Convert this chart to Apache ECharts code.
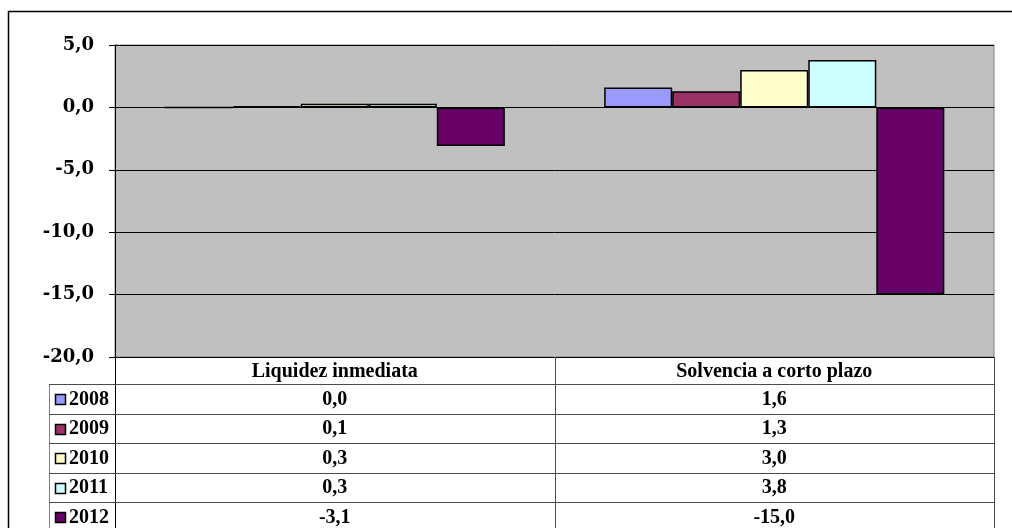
<!DOCTYPE html>
<html>
<head>
<meta charset="utf-8">
<script src="https://cdn.jsdelivr.net/npm/echarts@6/dist/echarts.min.js"></script>
<style>
  html, body { margin: 0; padding: 0; background: #ffffff; }
  #chart { width: 1012px; height: 528px; }
</style>
</head>
<body>
<div id="chart"></div>
<script>
// Ratios per year for the two indicators
const categories = ['Liquidez inmediata', 'Solvencia a corto plazo'];
const years = ['2008', '2009', '2010', '2011', '2012'];
const v2008 = [0.0, 1.6];
const v2009 = [0.1, 1.3];
const v2010 = [0.3, 3.0];
const v2011 = [0.3, 3.8];
const v2012 = [-3.1, -15.0];
const yTicks = { min: -20, max: 5, interval: 5 };

const seriesValues = [v2008, v2009, v2010, v2011, v2012];
const colors = ['#9999FF', '#993366', '#FFFFCC', '#CCFFFF', '#660066'];

const fmt = v => v.toFixed(1).replace('.', ',');

const GRID = { left: 115, top: 45, right: 18, bottom: 171 };
const W = 1012, H = 528;
const tableText = {
  fontFamily: '"Liberation Serif", "Times New Roman", serif',
  fontWeight: 'bold',
  fontSize: 20
};
const lineColor = '#4a4a4a';

const chart = echarts.init(document.getElementById('chart'), null, { renderer: 'canvas' });

chart.setOption({
  animation: false,
  backgroundColor: '#ffffff',
  grid: {
    left: GRID.left, top: GRID.top, right: GRID.right, bottom: GRID.bottom,
    show: true, backgroundColor: '#C0C0C0', borderColor: '#808080', borderWidth: 1
  },
  xAxis: {
    type: 'category',
    data: categories,
    axisLine: { onZero: true, lineStyle: { color: '#000', width: 1 } },
    axisTick: { show: false },
    axisLabel: { show: false },
    splitLine: { show: false }
  },
  yAxis: {
    type: 'value',
    min: yTicks.min, max: yTicks.max, interval: yTicks.interval,
    axisLine: { show: true, lineStyle: { color: '#000', width: 1 } },
    axisTick: { show: true, length: 6, lineStyle: { color: '#000' } },
    axisLabel: {
      margin: 21,
      formatter: v => fmt(v),
      fontFamily: '"DejaVu Serif", serif',
      fontWeight: 'bold',
      fontSize: 18,
      color: '#000'
    },
    splitLine: { show: true, lineStyle: { color: '#000', width: 1 } }
  },
  series: years.map((y, i) => ({
    name: y,
    type: 'bar',
    data: seriesValues[i],
    barGap: '0%',
    barCategoryGap: '22.6%',
    itemStyle: { color: colors[i], borderColor: '#000', borderWidth: 1.5 }
  }))
});

// Data table under the plot, laid out from the axis geometry
function buildTable() {
  const plotLeft = GRID.left;
  const plotRight = W - GRID.right;
  const plotBottom = H - GRID.bottom;
  const tableLeft = 49;
  const headerBottom = plotBottom + 27;
  const rowH = 29.5;
  const mid = (chart.convertToPixel({ xAxisIndex: 0 }, categories[0]) +
               chart.convertToPixel({ xAxisIndex: 0 }, categories[1])) / 2;

  const g = [];
  const line = (x1, y1, x2, y2, color, w) => g.push({
    type: 'line', silent: true, z: 10,
    shape: { x1, y1, x2, y2 },
    style: { stroke: color || lineColor, lineWidth: w || 1 }
  });
  const text = (x, y, str, align) => g.push({
    type: 'text', silent: true, z: 11,
    style: Object.assign({ x, y, text: str, fill: '#000',
             align: align || 'center', verticalAlign: 'middle' }, tableText)
  });

  // outer frame
  g.push({
    type: 'rect', silent: true, z: 0,
    shape: { x: 8.5, y: 11.5, width: 1020, height: 540 },
    style: { fill: null, stroke: '#000', lineWidth: 1.5 }
  });

  // vertical rules
  line(plotLeft + 0.5, plotBottom, plotLeft + 0.5, H + 5, '#000');
  line(Math.round(mid) + 0.5, plotBottom, Math.round(mid) + 0.5, H + 5);
  line(plotRight + 0.5, plotBottom, plotRight + 0.5, H + 5);
  line(tableLeft + 0.5, headerBottom, tableLeft + 0.5, H + 5, '#808080');

  // horizontal rules
  for (let r = 0; r <= years.length; r++) {
    const y = Math.round(headerBottom + r * rowH) + 0.5;
    line(tableLeft, y, plotRight + 1, y);
  }

  // header cells
  categories.forEach(c => {
    const cx = chart.convertToPixel({ xAxisIndex: 0 }, c);
    text(cx, (plotBottom + headerBottom) / 2 + 1, c);
  });

  // rows: legend key, year, values
  years.forEach((y, r) => {
    const cy = headerBottom + r * rowH + rowH / 2 + 1;
    g.push({
      type: 'rect', silent: true, z: 11,
      shape: { x: 55.5, y: Math.round(cy - 5.5) + 0.5, width: 10, height: 10 },
      style: { fill: colors[r], stroke: '#000', lineWidth: 1.5 }
    });
    text(69, cy, y, 'left');
    categories.forEach((c, ci) => {
      const cx = chart.convertToPixel({ xAxisIndex: 0 }, c);
      text(cx, cy, fmt(seriesValues[r][ci]));
    });
  });

  chart.setOption({ graphic: { elements: g } });
}

buildTable();
</script>
</body>
</html>
